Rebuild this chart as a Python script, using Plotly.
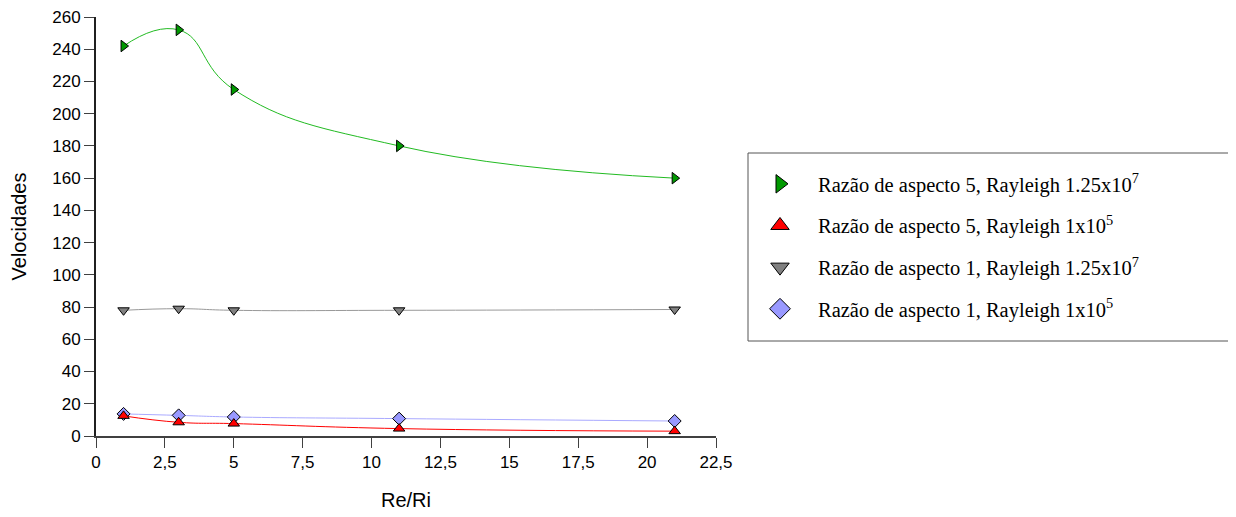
import plotly.graph_objects as go

re_ri = [1, 3, 5, 11, 21]
green_ar5_ra125e7 = [242, 252, 215, 180, 160]
red_ar5_ra1e5 = [12.5, 8.5, 7.7, 4.6, 3.0]
gray_ar1_ra125e7 = [78, 79, 78, 78, 78.5]
blue_ar1_ra1e5 = [13.7, 12.8, 11.8, 10.8, 9.3]

names = [
    "Razão de aspecto 5, Rayleigh 1.25x10<sup>7</sup>",
    "Razão de aspecto 5, Rayleigh 1x10<sup>5</sup>",
    "Razão de aspecto 1, Rayleigh 1.25x10<sup>7</sup>",
    "Razão de aspecto 1, Rayleigh 1x10<sup>5</sup>",
]
series = [green_ar5_ra125e7, red_ar5_ra1e5, gray_ar1_ra125e7, blue_ar1_ra1e5]
symbols = ["triangle-right", "triangle-up", "triangle-down", "diamond"]
marker_colors = ["#009900", "#ff0000", "#808080", "#9999ff"]
line_colors = ["#22bb22", "#ff0000", "#999999", "#aaaaff"]

OFF = 8  # default page body margin
W, H = 1236 - OFF, 517 - OFF
L, R, T, B = 96 - OFF, 716 - OFF, 17 - OFF, 436 - OFF
pw, ph = R - L, B - T

def px_x(p):
    return (p - OFF - L) / pw

def px_y(p):
    return (B - (p - OFF)) / ph

fig = go.Figure()
for i in [3, 2, 1, 0]:
    fig.add_trace(go.Scatter(
        x=re_ri, y=series[i], mode="lines+markers",
        line=dict(color=line_colors[i], width=1, shape="spline", smoothing=1.3),
        marker=dict(symbol=symbols[i], size=10, color=marker_colors[i],
                    line=dict(color="black", width=1)),
        showlegend=False, cliponaxis=False,
    ))
for i in range(4):
    fig.add_trace(go.Scatter(
        x=[None], y=[None], mode="markers", name=names[i],
        marker=dict(symbol=symbols[i], size=16, color=marker_colors[i],
                    line=dict(color="black", width=1)),
        legendgroup=str(i),
    ))

fig.update_layout(
    width=W, height=H,
    margin=dict(l=L, r=W - R, t=T, b=H - B, autoexpand=False),
    paper_bgcolor="white", plot_bgcolor="white",
    separators=",.",
    font=dict(family="Liberation Sans, Arial, sans-serif", size=17, color="black"),
    xaxis=dict(
        range=[0, 22.5], dtick=2.5, tick0=0, showgrid=False, zeroline=False,
        showline=True, linecolor="#404040", linewidth=2,
        ticks="outside", ticklen=10, tickcolor="#404040", tickwidth=1,
        ticklabeloverflow="allow",
        title=dict(text="Re/Ri", font=dict(size=20), standoff=22),
    ),
    yaxis=dict(
        range=[0, 260], dtick=20, showgrid=False, zeroline=False,
        showline=True, linecolor="#202020", linewidth=2,
        ticks="outside", ticklen=10, tickcolor="#404040", tickwidth=1,
        ticklabeloverflow="allow",
        title=dict(text="Velocidades", font=dict(size=20), standoff=20),
    ),
    legend=dict(
        x=px_x(742), xref="paper", y=px_y(164), yref="paper",
        xanchor="left", yanchor="top",
        font=dict(family="Liberation Serif, Times New Roman, serif", size=20.5),
        borderwidth=0, bgcolor="rgba(0,0,0,0)",
        tracegroupgap=12, itemsizing="trace", itemwidth=66,
    ),
    shapes=[dict(
        type="rect", xref="paper", yref="paper",
        x0=px_x(748), x1=px_x(1235), y0=px_y(341), y1=px_y(153),
        line=dict(color="#555555", width=1), fillcolor="rgba(0,0,0,0)",
    )],
)
fig.write_html("out.html")
